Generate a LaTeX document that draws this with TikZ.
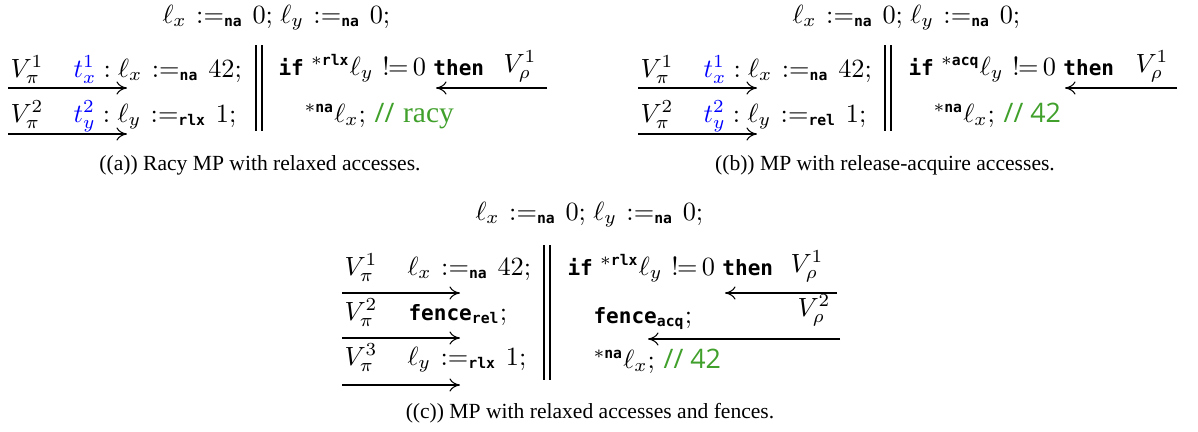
\documentclass[tikz,border=0pt]{standalone}
\usepackage{amsmath}
\usepackage[no-math]{fontspec}
\usetikzlibrary{arrows.meta}
\newfontfamily\capfont{Liberation Serif}[Scale=0.82]
\newfontfamily\racyfont{Liberation Serif}[Scale=1.12]
\newfontfamily\kwfont{DejaVu Sans Mono}[Scale=0.8]
\newfontfamily\cmtfont{Open Sans}[Scale=1.02]
\definecolor{cgreen}{RGB}{64,160,43}
\newcommand\kw[1]{\text{\kwfont\bfseries #1}}
\newcommand\asg[1]{\mkern1.5mu\mathrel{{:}{=}_{\kw{#1}}}\mkern1.5mu}
\newcommand\neqop{\mkern1mu\mathrel{!\mkern-1mu{=}}\mkern-2mu}
\newcommand\ld[1]{{}^{\ast\kw{#1}}}
\tikzset{
  lbl/.style={inner sep=0pt, anchor=base west},
  capt/.style={inner sep=0pt, anchor=base, font=\capfont},
  arr/.style={-{To[length=4pt,width=5pt]}, line width=0.4pt},
  bar/.style={line width=0.5pt}
}
\begin{document}
\begin{tikzpicture}[x=0.38pt,y=-0.38pt]
\useasboundingbox (0,0) rectangle (1198,432);
% ---------------- (a)
\node[lbl] (atop) at (162,23) {$\ell_x \asg{na} 0;\mkern2mu \ell_y \asg{na} 0;$};
\node[lbl] (aV1) at (10,77) {$V_\pi^1$};
\node[lbl] (aS1) at (73,77) {$\textcolor{blue}{t_x^1} : \ell_x \asg{na} 42;$};
\node[lbl] (aV2) at (10,122) {$V_\pi^2$};
\node[lbl] (aS2) at (73,122) {$\textcolor{blue}{t_y^2} : \ell_y \asg{rlx} 1;$};
\coordinate (aA1s) at (8,88); \coordinate (aA1e) at (127,88);
\coordinate (aA2s) at (8,134); \coordinate (aA2e) at (127,134);
\draw[arr] (aA1s) -- (aA1e);
\draw[arr] (aA2s) -- (aA2e);
\coordinate (aB1t) at (256,45); \coordinate (aB1b) at (256,131);
\coordinate (aB2t) at (262,45); \coordinate (aB2b) at (262,131);
\draw[bar] (aB1t) -- (aB1b);
\draw[bar] (aB2t) -- (aB2b);
\node[lbl] (aR1) at (278,75) {$\kw{if}\;\ld{rlx}\ell_y \neqop 0\;\kw{then}$};
\node[lbl] (aVr) at (503,72) {$V_\rho^1$};
\coordinate (aR1s) at (547,88); \coordinate (aR1e) at (436,88);
\draw[arr] (aR1s) -- (aR1e);
\node[lbl] (aR2) at (304,122) {$\ld{na}\ell_x;$\ \textcolor{cgreen}{{\cmtfont //} {\racyfont racy}}};
\node[capt] (acap) at (260,170) {((a)) Racy MP with relaxed accesses.};
% ---------------- (b)
\node[lbl] (btop) at (792,23) {$\ell_x \asg{na} 0;\mkern2mu \ell_y \asg{na} 0;$};
\node[lbl] (bV1) at (640,77) {$V_\pi^1$};
\node[lbl] (bS1) at (703,77) {$\textcolor{blue}{t_x^1} : \ell_x \asg{na} 42;$};
\node[lbl] (bV2) at (640,122) {$V_\pi^2$};
\node[lbl] (bS2) at (703,122) {$\textcolor{blue}{t_y^2} : \ell_y \asg{rel} 1;$};
\coordinate (bA1s) at (638,88); \coordinate (bA1e) at (757,88);
\coordinate (bA2s) at (638,134); \coordinate (bA2e) at (757,134);
\draw[arr] (bA1s) -- (bA1e);
\draw[arr] (bA2s) -- (bA2e);
\coordinate (bB1t) at (885,45); \coordinate (bB1b) at (885,131);
\coordinate (bB2t) at (891,45); \coordinate (bB2b) at (891,131);
\draw[bar] (bB1t) -- (bB1b);
\draw[bar] (bB2t) -- (bB2b);
\node[lbl] (bR1) at (908,75) {$\kw{if}\;\ld{acq}\ell_y \neqop 0\;\kw{then}$};
\node[lbl] (bVr) at (1135,72) {$V_\rho^1$};
\coordinate (bR1s) at (1177,88); \coordinate (bR1e) at (1065,88);
\draw[arr] (bR1s) -- (bR1e);
\node[lbl] (bR2) at (933,122) {$\ld{na}\ell_x;$\ \textcolor{cgreen}{\cmtfont // 42}};
\node[capt] (bcap) at (885,170) {((b)) MP with release-acquire accesses.};
% ---------------- (c)
\node[lbl] (ctop) at (475,220) {$\ell_x \asg{na} 0;\mkern2mu \ell_y \asg{na} 0;$};
\node[lbl] (cV1) at (344,275) {$V_\pi^1$};
\node[lbl] (cS1) at (407,275) {$\ell_x \asg{na} 42;$};
\node[lbl] (cV2) at (344,320) {$V_\pi^2$};
\node[lbl] (cS2) at (408,320) {$\kw{fence}_{\kw{rel}};$};
\node[lbl] (cV3) at (344,365) {$V_\pi^3$};
\node[lbl] (cS3) at (407,365) {$\ell_y \asg{rlx} 1;$};
\coordinate (cA1s) at (342,293); \coordinate (cA1e) at (460,293);
\coordinate (cA2s) at (342,338); \coordinate (cA2e) at (460,338);
\coordinate (cA3s) at (342,385); \coordinate (cA3e) at (460,385);
\draw[arr] (cA1s) -- (cA1e);
\draw[arr] (cA2s) -- (cA2e);
\draw[arr] (cA3s) -- (cA3e);
\coordinate (cB1t) at (544,245); \coordinate (cB1b) at (544,380);
\coordinate (cB2t) at (550,245); \coordinate (cB2b) at (550,380);
\draw[bar] (cB1t) -- (cB1b);
\draw[bar] (cB2t) -- (cB2b);
\node[lbl] (cR1) at (567,275) {$\kw{if}\;\ld{rlx}\ell_y \neqop 0\;\kw{then}$};
\node[lbl] (cVr1) at (790,272) {$V_\rho^1$};
\coordinate (cR1s) at (837,293); \coordinate (cR1e) at (725,293);
\draw[arr] (cR1s) -- (cR1e);
\node[lbl] (cR2) at (593,323) {$\kw{fence}_{\kw{acq}};$};
\node[lbl] (cVr2) at (797,316) {$V_\rho^2$};
\coordinate (cR2s) at (840,339); \coordinate (cR2e) at (648,339);
\draw[arr] (cR2s) -- (cR2e);
\node[lbl] (cR3) at (593,368) {$\ld{na}\ell_x;$\ \textcolor{cgreen}{\cmtfont // 42}};
\node[capt] (ccap) at (590,418) {((c)) MP with relaxed accesses and fences.};
\end{tikzpicture}
\end{document}
